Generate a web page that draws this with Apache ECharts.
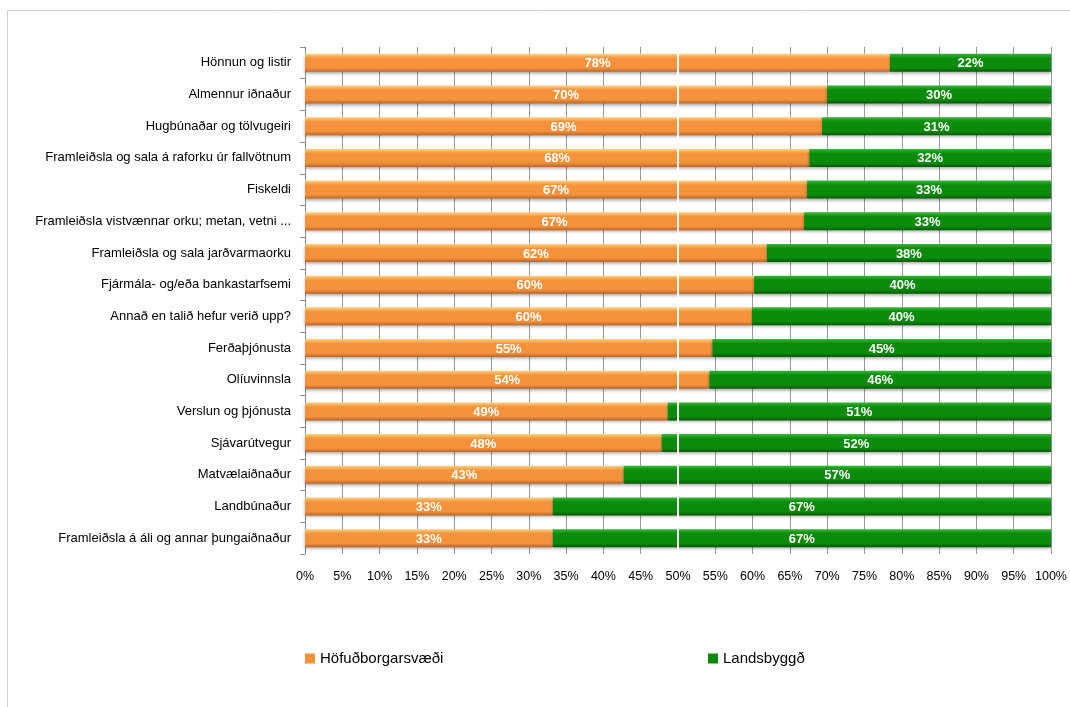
<!DOCTYPE html>
<html><head><meta charset="utf-8">
<script src="https://cdn.jsdelivr.net/npm/echarts@6/dist/echarts.min.js"></script>
<style>html,body{margin:0;padding:0;background:#fff}#c{width:1070px;height:707px}</style>
</head><body><div id="c"></div>
<script>
const categories = [
  'Hönnun og listir',
  'Almennur iðnaður',
  'Hugbúnaðar og tölvugeiri',
  'Framleiðsla og sala á raforku úr fallvötnum',
  'Fiskeldi',
  'Framleiðsla vistvænnar orku; metan, vetni ...',
  'Framleiðsla og sala jarðvarmaorku',
  'Fjármála- og/eða bankastarfsemi',
  'Annað en talið hefur verið upp?',
  'Ferðaþjónusta',
  'Olíuvinnsla',
  'Verslun og þjónusta',
  'Sjávarútvegur',
  'Matvælaiðnaður',
  'Landbúnaður',
  'Framleiðsla á áli og annar þungaiðnaður'
];
const hofudborg = [78.4, 70.0, 69.3, 67.6, 67.3, 66.9, 61.9, 60.2, 59.9, 54.6, 54.2, 48.6, 47.8, 42.7, 33.2, 33.2];
const landsbyggd = [21.6, 30.0, 30.7, 32.4, 32.7, 33.1, 38.1, 39.8, 40.1, 45.4, 45.8, 51.4, 52.2, 57.3, 66.8, 66.8];
const seriesNames = ['Höfuðborgarsvæði', 'Landsbyggð'];

const FONT = 'Liberation Sans';
const chart = echarts.init(document.getElementById('c'));
function grad(top, mid, bot) {
  return new echarts.graphic.LinearGradient(0, 0, 0, 1, [
    {offset: 0, color: top}, {offset: 0.25, color: mid}, {offset: 0.78, color: mid}, {offset: 1, color: bot}
  ]);
}
const lbl = {show: true, position: 'inside', color: '#fff', fontWeight: 'bold', fontSize: 13, fontFamily: FONT,
  offset: [0, 1], formatter: p => Math.round(p.value) + '%'};
chart.setOption({
  animation: false,
  textStyle: {fontFamily: FONT},
  graphic: [{type: 'rect', shape: {x: 7.5, y: 10.5, width: 1080, height: 720}, style: {fill: 'none', stroke: '#d0d0d0', lineWidth: 1}, silent: true, z: -1}],
  legend: [
    {data: [{name: seriesNames[0], itemStyle: {color: '#f7923c'}}], left: 300, top: 646, itemWidth: 10, itemHeight: 10, icon: 'rect', itemGap: 4,
      textStyle: {fontSize: 15, color: '#000', fontFamily: FONT}},
    {data: [{name: seriesNames[1], itemStyle: {color: '#0b8a0b'}}], left: 703, top: 646, itemWidth: 10, itemHeight: 10, icon: 'rect', itemGap: 4,
      textStyle: {fontSize: 15, color: '#000', fontFamily: FONT}}
  ],
  grid: {left: 305, right: 19, top: 47, bottom: 153, containLabel: false},
  xAxis: {type: 'value', min: 0, max: 100, interval: 5,
    axisLine: {show: false}, axisTick: {show: false},
    axisLabel: {formatter: '{value}%', color: '#000', fontSize: 12.5, margin: 16, fontFamily: FONT},
    splitLine: {show: true, lineStyle: {color: '#9a9a9a', width: 1}}},
  yAxis: {type: 'category', data: categories, inverse: true,
    axisLine: {show: true, lineStyle: {color: '#8c8c8c'}},
    axisTick: {show: true, length: 5, lineStyle: {color: '#8c8c8c'}},
    axisLabel: {color: '#000', fontSize: 13, margin: 14, fontFamily: FONT}},
  series: [
    {name: seriesNames[0], type: 'bar', stack: 's', data: hofudborg, barWidth: 18,
      itemStyle: {color: grad('#ffd27f', '#f7923c', '#b9662a'), shadowColor: 'rgba(0,0,0,0.35)', shadowBlur: 3, shadowOffsetY: 2},
      label: lbl},
    {name: seriesNames[1], type: 'bar', stack: 's', data: landsbyggd, barWidth: 18,
      itemStyle: {color: grad('#36b836', '#0b8a0b', '#055a05'), shadowColor: 'rgba(0,0,0,0.35)', shadowBlur: 3, shadowOffsetY: 2},
      label: lbl,
      markLine: {silent: true, symbol: 'none', label: {show: false}, lineStyle: {color: '#fff', width: 2, type: 'solid'},
        data: [{xAxis: 50}]}}
  ]
});
</script></body></html>
